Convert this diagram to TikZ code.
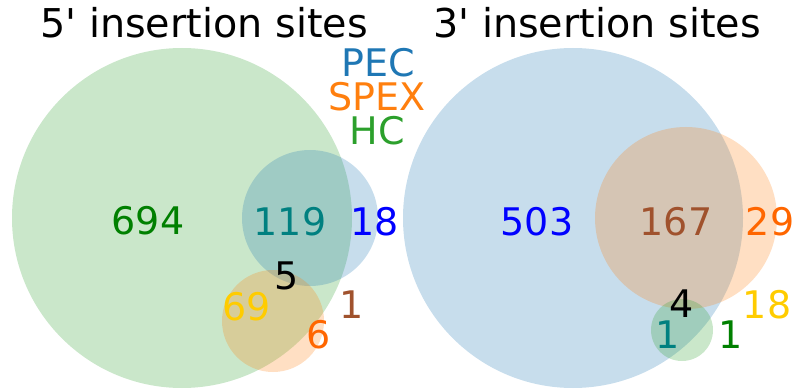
\documentclass[tikz,border=0pt]{standalone}
\usepackage{fontspec}
\setmainfont{DejaVu Sans}
% plain family without TeX quote ligatures, so ' stays straight
\newfontfamily\plaindv{DejaVu Sans}
\definecolor{tabblue}{HTML}{1F77B4}
\definecolor{taborange}{HTML}{FF7F0E}
\definecolor{tabgreen}{HTML}{2CA02C}
\definecolor{cgreen}{HTML}{008000}
\definecolor{cteal}{HTML}{008080}
\definecolor{cblue}{HTML}{0000FF}
\definecolor{cgold}{HTML}{FFCC00}
\definecolor{csienna}{HTML}{A0522D}
\definecolor{corange}{HTML}{FF6600}
\tikzset{
  setcircle/.style={fill=#1, fill opacity=0.25, draw=none},
  lbl/.style={font=\fontsize{38}{46}\selectfont, inner sep=0pt, anchor=center, text=#1},
  ttl/.style={font=\plaindv\fontsize{39.7}{48}\selectfont, inner sep=0pt, anchor=base},
}
\begin{document}
\begin{tikzpicture}[x=1pt, y=-1pt]
  \useasboundingbox (0,0) rectangle (795,390);

  % 5' panel circles
  \fill[setcircle=tabgreen] (182,218) circle (170);
  \fill[setcircle=tabblue] (310,218) circle (68);
  \fill[setcircle=taborange] (273,321) circle (51);

  % 3' panel circles
  \fill[setcircle=tabblue] (573,218) circle (170);
  \fill[setcircle=taborange] (686,218) circle (91);
  \fill[setcircle=tabgreen] (682,330) circle (31);

  % titles
  \node[ttl] (t5) at (204,37.5) {5' insertion sites};
  \node[ttl] (t3) at (597,37.5) {3' insertion sites};

  % legend
  \node[lbl=tabblue] (lpec) at (378,63) {PEC};
  \node[lbl=taborange] (lspex) at (377,97) {SPEX};
  \node[lbl=tabgreen] (lhc) at (377,131) {HC};

  % 5' region counts
  \node[lbl=cgreen] (a694) at (148,221) {694};
  \node[lbl=cteal] (a119) at (290,222) {119};
  \node[lbl=cblue] (a18) at (375,222) {18};
  \node[lbl=black] (a5) at (287,276) {5};
  \node[lbl=cgold] (a69) at (247,307) {69};
  \node[lbl=csienna] (a1) at (352,304.5) {1};
  \node[lbl=corange] (a6) at (319,335) {6};

  % 3' region counts
  \node[lbl=cblue] (b503) at (537,222) {503};
  \node[lbl=csienna] (b167) at (676,222) {167};
  \node[lbl=corange] (b29) at (770,222) {29};
  \node[lbl=black] (b4) at (681.5,304) {4};
  \node[lbl=cgold] (b18) at (767,304.5) {18};
  \node[lbl=cteal] (b1a) at (668,335) {1};
  \node[lbl=cgreen] (b1b) at (731,335) {1};
\end{tikzpicture}
\end{document}
